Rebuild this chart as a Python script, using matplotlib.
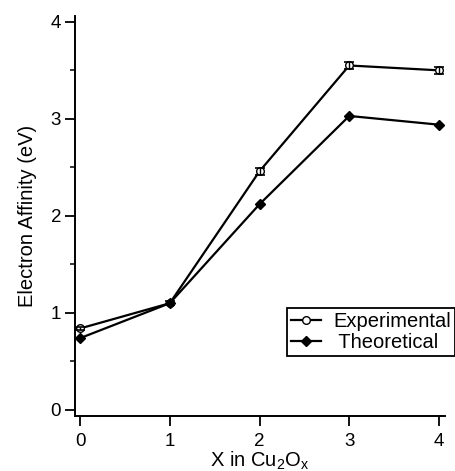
import numpy as np
import matplotlib
matplotlib.use("Agg")
import matplotlib.pyplot as plt
from matplotlib.ticker import MultipleLocator

x_vals = [0, 1, 2, 3, 4]
experimental = [0.84, 1.10, 2.46, 3.55, 3.50]
experimental_err = [0.02, 0.02, 0.035, 0.035, 0.035]
theoretical = [0.74, 1.10, 2.12, 3.03, 2.94]


def plot():
    plt.rcParams["font.family"] = ["Liberation Sans", "DejaVu Sans"]
    plt.rcParams["mathtext.fontset"] = "custom"
    plt.rcParams["mathtext.rm"] = "Liberation Sans"
    plt.rcParams["mathtext.it"] = "Liberation Sans"
    plt.rcParams["mathtext.default"] = "regular"

    fig = plt.figure(figsize=(4.55, 4.71), dpi=100)
    ax = fig.add_axes([75 / 455, 1 - 416 / 471, 370 / 455, 400 / 471])

    ax.plot(x_vals, experimental, color="black", lw=1.6, marker="o", ms=5.5,
            mfc="white", mec="black", mew=1.0, label="Experimental", zorder=3)
    ax.errorbar(x_vals, experimental, yerr=experimental_err, fmt="none",
                ecolor="black", capsize=3.5, elinewidth=1.0, capthick=1.2,
                zorder=4)
    ax.plot(x_vals, theoretical, color="black", lw=1.6, marker="D", ms=5.5,
            label=" Theoretical", zorder=3)

    ax.set_xlim(-0.056, 4.067)
    ax.set_ylim(-0.062, 4.06)
    for side in ("top", "right"):
        ax.spines[side].set_visible(False)
    for side in ("left", "bottom"):
        ax.spines[side].set_linewidth(1.4)

    ax.xaxis.set_major_locator(MultipleLocator(1))
    ax.yaxis.set_major_locator(MultipleLocator(1))
    ax.yaxis.set_minor_locator(MultipleLocator(0.5))
    ax.tick_params(axis="both", which="major", direction="out", length=7,
                   width=1.3, labelsize=13.5, pad=3)
    ax.tick_params(axis="x", which="major", pad=5)
    ax.tick_params(axis="y", which="minor", direction="out", length=3.5, width=1.1)

    ax.set_xlabel("X in Cu$_2$O$_x$", fontsize=14.5, labelpad=0)
    ax.set_ylabel("Electron Affinity (eV)", fontsize=14.5, labelpad=10)

    leg = ax.legend(loc="upper left", bbox_to_anchor=(287 / 455, 1 - 308 / 471),
                    bbox_transform=fig.transFigure, fontsize=14.5, frameon=True,
                    fancybox=False, edgecolor="black", borderpad=0.2,
                    handlelength=1.5, handletextpad=0.6, labelspacing=0.1,
                    borderaxespad=0, framealpha=1)
    leg.get_frame().set_linewidth(1.3)

    fig.savefig("out.png", dpi=100)
    plt.close()


if __name__ == "__main__":
    plot()
